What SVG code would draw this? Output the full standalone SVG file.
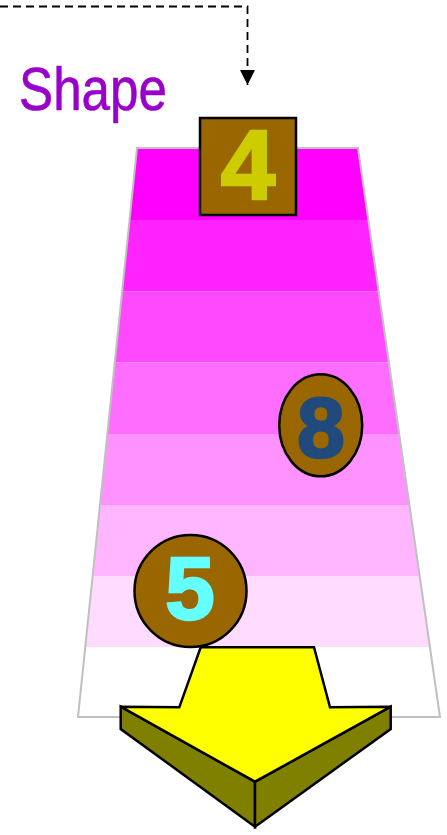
<svg xmlns="http://www.w3.org/2000/svg" width="447" height="835" viewBox="0 0 447 835">
<style>
.num{font-family:"Liberation Sans",Arial,sans-serif;font-weight:bold;text-anchor:middle}
.blk{stroke:#000;stroke-width:2.5;stroke-linejoin:miter}
.conn{fill:none;stroke:#000;stroke-width:1.8;stroke-dasharray:8 5}
</style>
<defs>
<clipPath id="trapClip"><polygon points="137,148 358,148 440,717 78,717"/></clipPath>
<marker id="arr" viewBox="0 0 10 10" refX="10" refY="5" markerWidth="15" markerHeight="15" markerUnits="userSpaceOnUse" orient="auto"><path d="M0,0 L10,5 L0,10 z" fill="#000"/></marker>
</defs>
<g id="connectors">
<path class="conn" d="M0,6.5 H247.5 V85" marker-end="url(#arr)"/>
</g>
<g id="label-shape">
<text x="19" y="110" font-family="'Liberation Sans Narrow','Liberation Sans',Arial,sans-serif" font-size="62" fill="#9900CC" stroke="#9900CC" stroke-width="0.6" textLength="148" lengthAdjust="spacingAndGlyphs">Shape</text>
</g>
<g id="trapezoid">
<g clip-path="url(#trapClip)">
<rect x="70" y="148" width="380" height="72" fill="#FF00FF"/>
<rect x="70" y="220" width="380" height="71.5" fill="#FF24FF"/>
<rect x="70" y="291.5" width="380" height="71" fill="#FF49FF"/>
<rect x="70" y="362.5" width="380" height="71.5" fill="#FF6DFF"/>
<rect x="70" y="434" width="380" height="71" fill="#FF92FF"/>
<rect x="70" y="505" width="380" height="71" fill="#FFB6FF"/>
<rect x="70" y="576" width="380" height="71" fill="#FFDBFF"/>
<rect x="70" y="647" width="380" height="71" fill="#FFFFFF"/>
</g>
<polygon points="137,148 358,148 440,717 78,717" fill="none" stroke="#C0C0C0" stroke-width="2"/>
</g>
<g id="node-4">
<rect class="blk" x="200" y="118" width="96" height="97" fill="#996600"/>
<text class="num" x="248" y="199" font-size="98" fill="#CCCC00" stroke="#CCCC00" stroke-width="2.5">4</text>
</g>
<g id="node-8">
<ellipse class="blk" cx="320.7" cy="425.3" rx="41.5" ry="51" fill="#996600"/>
<text class="num" x="321" y="457" font-size="86" fill="#214A7C" stroke="#214A7C" stroke-width="2.5">8</text>
</g>
<g id="node-5">
<circle class="blk" cx="190.5" cy="591" r="56" fill="#996600"/>
<text class="num" x="190" y="619" font-size="89" fill="#66FFFF" stroke="#66FFFF" stroke-width="2.5">5</text>
</g>
<g id="arrow">
<polygon class="blk" points="120.7,706.7 255,781.7 255,826.7 120.7,729" fill="#808000"/>
<polygon class="blk" points="390.7,706.7 255,781.7 255,826.7 390.7,729" fill="#808000"/>
<polygon class="blk" points="200.7,647.3 314,647.3 330,707.3 390.7,706.7 255,781.7 120.7,706.7 179.3,707.3" fill="#FFFF00"/>
</g>
</svg>
